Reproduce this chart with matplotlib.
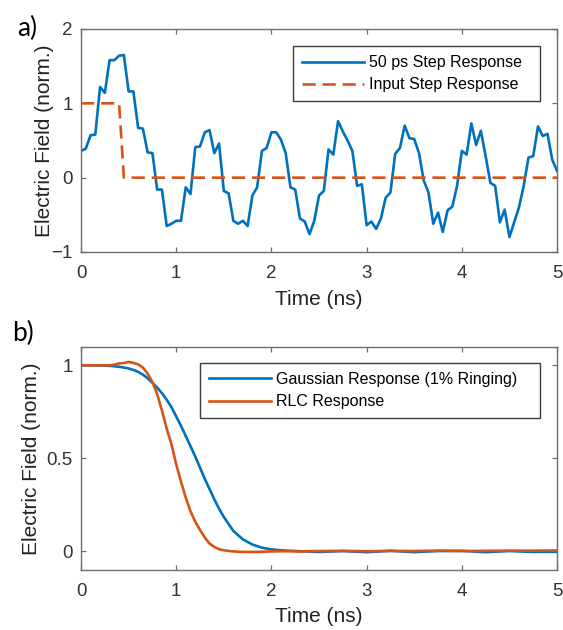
import numpy as np
import matplotlib
matplotlib.use('Agg')
import matplotlib.pyplot as plt

# ---- panel a) data, sampled every 50 ps ----
step_t = np.arange(101) * 0.05
step_resp = [
    0.36, 0.39, 0.57, 0.58, 1.22, 1.14, 1.58, 1.58, 1.64, 1.65,
    1.16, 1.16, 0.67, 0.66, 0.34, 0.33, -0.16, -0.16, -0.65, -0.62,
    -0.58, -0.58, -0.13, -0.22, 0.41, 0.42, 0.61, 0.64, 0.33, 0.46,
    -0.18, -0.21, -0.58, -0.62, -0.58, -0.65, -0.24, -0.13, 0.36, 0.40,
    0.61, 0.61, 0.51, 0.33, -0.13, -0.16, -0.55, -0.59, -0.76, -0.58,
    -0.24, -0.18, 0.38, 0.31, 0.76, 0.62, 0.50, 0.36, -0.11, -0.09,
    -0.64, -0.59, -0.69, -0.55, -0.27, -0.20, 0.32, 0.40, 0.70, 0.53,
    0.52, 0.33, -0.04, -0.20, -0.62, -0.47, -0.73, -0.44, -0.39, -0.11,
    0.36, 0.31, 0.73, 0.44, 0.63, 0.29, -0.07, -0.11, -0.60, -0.43,
    -0.80, -0.60, -0.40, -0.11, 0.27, 0.29, 0.69, 0.56, 0.59, 0.24,
    0.09,
]
input_step = [1.0] * 9 + [0.0] * 92

# ---- panel b) data ----
resp_t = [
    0.0, 0.1, 0.2, 0.3, 0.35, 0.4, 0.45, 0.5, 0.55, 0.6, 0.65, 0.7, 0.75,
    0.8, 0.85, 0.9, 0.95, 1.0, 1.05, 1.1, 1.15, 1.2, 1.25, 1.3, 1.35, 1.4,
    1.45, 1.5, 1.6, 1.7, 1.8, 1.9, 2.0, 2.1, 2.2, 2.3, 2.5, 2.75, 3.0,
    3.25, 3.5, 3.75, 4.0, 4.25, 4.5, 4.75, 5.0,
]
gauss_resp = [
    1.0, 1.0, 0.999, 0.997, 0.995, 0.992, 0.988, 0.983, 0.975, 0.965, 0.95,
    0.93, 0.906, 0.88, 0.85, 0.815, 0.775, 0.725, 0.675, 0.62, 0.565,
    0.51, 0.45, 0.39, 0.335, 0.28, 0.23, 0.185, 0.11, 0.065, 0.037,
    0.02, 0.011, 0.006, 0.003, 0.001, -0.003, 0.002, -0.004, 0.003, -0.004,
    0.002, 0.003, -0.004, 0.002, -0.003, -0.002,
]
rlc_resp = [
    1.0, 1.0, 1.0, 1.0, 1.003, 1.01, 1.012, 1.018, 1.013, 1.005, 0.988,
    0.955, 0.91, 0.845, 0.757, 0.66, 0.575, 0.468, 0.375, 0.29, 0.215,
    0.16, 0.115, 0.075, 0.042, 0.024, 0.012, 0.006, 0.0, -0.003, -0.003,
    -0.002, 0.0, 0.001, 0.001, 0.0, 0.002, 0.003, 0.001, 0.003, 0.002,
    0.004, 0.002, 0.003, 0.004, 0.004, 0.005,
]

BLUE = '#0072BD'
ORANGE = '#D95319'
FRAME = '#6e6e6e'
TEXT = '#333333'

plt.rcParams['font.family'] = ['Liberation Sans', 'DejaVu Sans']

fig = plt.figure(figsize=(5.63, 6.30), dpi=100)
ax_a = fig.add_axes([0.1439, 0.600, 0.8455, 0.354])
ax_b = fig.add_axes([0.1439, 0.0952, 0.8455, 0.3545])


def style_axes(ax, ylabelpad, xlabelpad):
    for sp in ax.spines.values():
        sp.set_color(FRAME)
        sp.set_linewidth(1.0)
    ax.tick_params(direction='in', length=3.6, width=0.9, color=FRAME,
                   top=True, right=True, labelsize=13.5, labelcolor=TEXT)
    ax.tick_params(axis='x', pad=9)
    ax.tick_params(axis='y', pad=6)
    ax.set_xlim(0, 5)
    ax.set_xticks([0, 1, 2, 3, 4, 5])
    ax.set_xlabel('Time (ns)', fontsize=15, color='#222222', labelpad=xlabelpad)
    ax.set_ylabel('Electric Field (norm.)', fontsize=15, color='#222222',
                  labelpad=ylabelpad)


def add_legend(ax, anchor):
    leg = ax.legend(loc='upper left', bbox_to_anchor=anchor, mode='expand',
                    fontsize=11.5, frameon=True, fancybox=False, framealpha=1,
                    edgecolor='#3c3c3c', borderpad=0.55, labelspacing=0.45,
                    handlelength=3.9, handletextpad=0.3, borderaxespad=0)
    leg.get_frame().set_linewidth(1.0)


# a)
ax_a.plot(step_t, step_resp, color=BLUE, lw=1.9, label='50 ps Step Response')
ax_a.plot(step_t, input_step, color=ORANGE, lw=1.9, dashes=(5.0, 2.6),
          label='Input Step Response')
ax_a.set_ylim(-1, 2)
ax_a.set_yticks([-1, 0, 1, 2])
style_axes(ax_a, ylabelpad=-2, xlabelpad=6)
add_legend(ax_a, (0.445, 0.687, 0.519, 0.235))

# b)
ax_b.plot(resp_t, gauss_resp, color=BLUE, lw=1.9,
          label='Gaussian Response (1% Ringing)')
ax_b.plot(resp_t, rlc_resp, color=ORANGE, lw=1.9, label='RLC Response')
ax_b.set_ylim(-0.1, 1.1)
ax_b.set_yticks([0, 0.5, 1])
ax_b.set_yticklabels(['0', '0.5', '1'])
style_axes(ax_b, ylabelpad=4, xlabelpad=5.5)
add_legend(ax_b, (0.25, 0.694, 0.714, 0.232))

fig.text(0.030, 0.975, 'a)', fontsize=19, family='Lato', va='top', ha='left')
fig.text(0.021, 0.491, 'b)', fontsize=19, family='Lato', va='top', ha='left')

fig.savefig('out.png', dpi=100)
